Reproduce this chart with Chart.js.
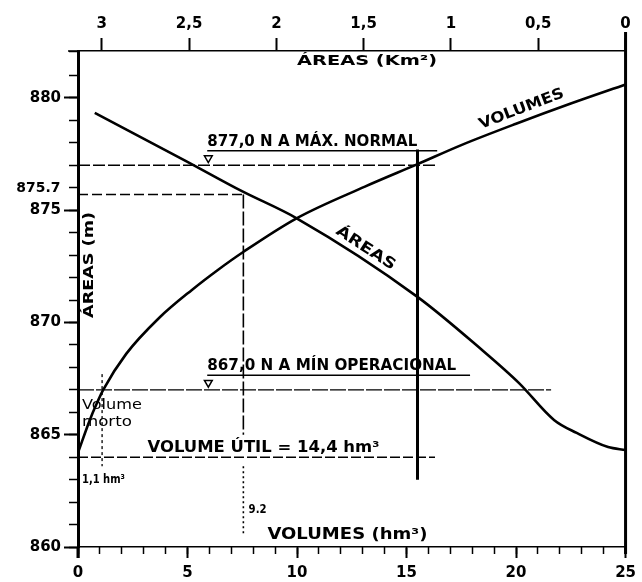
<!DOCTYPE html>
<html><head><meta charset="utf-8">
<script src="https://cdn.jsdelivr.net/npm/chart.js@4.4.1/dist/chart.umd.min.js"></script>
<style>html,body{margin:0;padding:0;background:#fff}#wrap{width:642px;height:582px;position:relative}canvas{display:block}</style>
</head><body><div id="wrap"><canvas id="c" width="642" height="582"></canvas></div>
<script>
// ---- data ----
const volumeValues = [0, 0.54, 0.86, 1.15, 2.2, 3.7, 5.2, 6.4, 7.56, 10.0, 13.1, 15.5, 17.5, 20.0, 22.5, 25];
const volumeElev   = [864.2, 865.66, 866.4, 867.0, 868.6, 870.2, 871.45, 872.35, 873.15, 874.65, 876.05, 877.05, 877.9, 878.85, 879.75, 880.6];
// areas ordered from largest to smallest (left to right on the reversed top axis)
const areaValues   = [3.04, 2.52, 2.2, 1.886, 1.19, 0.835, 0.61, 0.41, 0.28, 0.1, 0];
const areaElev     = [879.33, 877.2, 875.86, 874.65, 871.13, 868.86, 867.3, 865.66, 865.08, 864.45, 864.32];
const elevTicks    = [860, 865, 870, 875, 880];
const volumeTicks  = [0, 5, 10, 15, 20, 25];
const areaTicks    = [3, 2.5, 2, 1.5, 1, 0.5, 0];
const areaTickLabels = ['3', '2,5', '2', '1,5', '1', '0,5', '0'];
const levelMaxNormal = 877.0;
const levelMinOper   = 867.0;
const levelBottom    = 864.0;
const level875       = 875.7;
const deadVolume     = 1.1;
const volumeAtMax    = 15.5;
const volumeAt875    = 7.55;

const pts = (xs, ys) => xs.map((x, i) => ({x, y: ys[i]}));
const seg = (x1, y1, x2, y2) => [{x: x1, y: y1}, {x: x2, y: y2}];
const line = (data, w, dash) => ({data, showLine: true, borderColor: '#000', borderWidth: w, borderDash: dash || [], pointRadius: 0, fill: false, tension: 0, xAxisID: 'x', yAxisID: 'y'});

const FONT = 'DejaVu Sans';
const notes = [
  {text: '877,0 N A MÁX. NORMAL', v: 5.9, e: 877.86, align: 'left', base: 'alphabetic', w: 210, size: 15, bold: true},
  {text: '867,0 N A MÍN OPERACIONAL', v: 5.9, e: 867.88, align: 'left', base: 'alphabetic', w: 249, size: 15, bold: true},
  {text: 'VOLUME ÚTIL = 14,4 hm³', v: 3.17, e: 864.23, align: 'left', base: 'alphabetic', w: 232, size: 15, bold: true},
  {text: 'ÁREAS (Km²)', v: 13.2, e: 881.62, align: 'center', base: 'middle', w: 140, size: 14, bold: true},
  {text: 'ÁREAS (m)', v: 0.5, e: 872.56, align: 'center', base: 'middle', w: 106, size: 14, bold: true, rot: -90},
  {text: 'VOLUMES (hm³)', v: 12.3, e: 860.55, align: 'center', base: 'middle', w: 160, size: 15, bold: true},
  {text: 'VOLUMES', v: 20.25, e: 879.5, align: 'center', base: 'middle', w: 90, size: 15, bold: true, rot: -21},
  {text: 'ÁREAS', v: 13.13, e: 873.3, align: 'center', base: 'middle', w: 68, size: 15, bold: true, rot: 33},
  {text: '875.7', v: -1.81, e: 875.97, align: 'center', base: 'middle', w: 44, size: 14, bold: true},
  {text: 'Volume', v: 0.18, e: 866.33, align: 'left', base: 'middle', w: 60, size: 14, bold: false},
  {text: 'morto', v: 0.18, e: 865.57, align: 'left', base: 'middle', w: 50, size: 14, bold: false},
  {text: '1,1 hm³', v: 0.18, e: 862.98, align: 'left', base: 'middle', w: 43, size: 13, bold: true},
  {text: '9.2', v: 8.2, e: 861.65, align: 'center', base: 'middle', w: 18, size: 13, bold: true}
];

const notesPlugin = {
  id: 'notes',
  afterDraw(chart) {
    const {ctx, chartArea: ca} = chart;
    const xs = chart.scales.x, ys = chart.scales.y;
    ctx.save();
    ctx.strokeStyle = '#000';
    ctx.lineWidth = 3;
    ctx.beginPath();
    ctx.moveTo(ca.right, ca.top - 19); ctx.lineTo(ca.right, ca.bottom + 7);
    ctx.moveTo(ca.left, ca.bottom); ctx.lineTo(ca.left, ca.bottom + 11);
    ctx.stroke();
    ctx.lineWidth = 1.5;
    ctx.beginPath();
    ctx.moveTo(ca.left - 10, ca.top); ctx.lineTo(ca.left, ca.top);
    ctx.stroke();
    ctx.fillStyle = '#000';
    for (const n of notes) {
      const px = xs.getPixelForValue(n.v), py = ys.getPixelForValue(n.e);
      ctx.save();
      ctx.translate(px, py);
      if (n.rot) ctx.rotate(n.rot * Math.PI / 180);
      ctx.font = (n.bold ? 'bold ' : '') + n.size + 'px "' + FONT + '"';
      ctx.textAlign = n.align;
      ctx.textBaseline = n.base;
      const m = ctx.measureText(n.text).width;
      ctx.scale(n.w / m, 1);
      ctx.fillText(n.text, 0, 0);
      ctx.restore();
    }
    ctx.restore();
  }
};

const tickFont = {family: FONT, size: 15, weight: 'bold'};

new Chart(document.getElementById('c'), {
  type: 'scatter',
  data: {
    datasets: [
      Object.assign(line(pts(volumeValues, volumeElev), 2.6), {cubicInterpolationMode: 'monotone', tension: 0.4}),
      Object.assign(line(pts(areaValues, areaElev), 2.6), {cubicInterpolationMode: 'monotone', tension: 0.4, xAxisID: 'x2'}),
      line(seg(0, levelMaxNormal, 16.4, levelMaxNormal), 1.4, [12, 3]),
      line(seg(5.9, 877.65, 16.4, 877.65), 1.5),
      line(seg(0, level875, volumeAt875, level875), 1.3, [10, 4]),
      line(seg(volumeAt875, level875, volumeAt875, 865.0), 1.6, [14, 3]),
      line(seg(volumeAt875, 863.6, volumeAt875, 860.6), 1.6, [2, 3]),
      line(seg(volumeAtMax, 877.7, volumeAtMax, 863.0), 3),
      line(seg(0, levelMinOper, 21.6, levelMinOper), 1.3, [16, 2]),
      line(seg(5.9, 867.65, 17.9, 867.65), 1.5),
      line(seg(0, levelBottom, 16.3, levelBottom), 1.4, [10, 3]),
      line(seg(deadVolume, 867.7, deadVolume, 863.6), 1.3, [3, 3]),
      {data: [{x: 5.95, y: 877.32}, {x: 5.95, y: 867.32}], showLine: false, pointStyle: 'triangle', rotation: 180,
       pointRadius: 4.5, pointBorderWidth: 1.5, pointBorderColor: '#000', pointBackgroundColor: '#fff', xAxisID: 'x', yAxisID: 'y'}
    ]
  },
  options: {
    responsive: false,
    maintainAspectRatio: false,
    animation: false,
    devicePixelRatio: 1,
    layout: {padding: {left: 0, right: 12, top: 0, bottom: 0}},
    plugins: {legend: {display: false}, tooltip: {enabled: false}},
    scales: {
      x: {
        type: 'linear', position: 'bottom', min: 0, max: 25, weight: 1,
        afterBuildTicks: s => { s.ticks = volumeTicks.map(v => ({value: v})); },
        afterFit: s => { s.height = 35; },
        ticks: {font: tickFont, color: '#000', padding: 6, maxRotation: 0, autoSkip: false},
        grid: {drawOnChartArea: false, drawTicks: true, tickLength: 11, tickWidth: 2, tickColor: '#000'},
        border: {display: true, color: '#000', width: 1.5}
      },
      xMinor: {
        type: 'linear', position: 'bottom', min: 0, max: 25, weight: 0,
        ticks: {display: false, stepSize: 1, autoSkip: false},
        afterFit: s => { s.height = 0; },
        grid: {drawOnChartArea: false, drawTicks: true, tickLength: 7, tickWidth: 1.5, tickColor: '#000'},
        border: {display: false}
      },
      x2: {
        type: 'linear', position: 'top', min: 0, max: 3.136, reverse: true,
        afterBuildTicks: s => { s.ticks = areaTicks.map(v => ({value: v})); },
        afterFit: s => { s.height = 51; },
        ticks: {font: tickFont, color: '#000', padding: 5, maxRotation: 0, autoSkip: false,
                callback: (v) => { const i = areaTicks.indexOf(v); return i >= 0 ? areaTickLabels[i] : ''; }},
        grid: {drawOnChartArea: false, drawTicks: true, tickLength: 13, tickWidth: 2, tickColor: '#000'},
        border: {display: true, color: '#000', width: 1.5}
      },
      y: {
        type: 'linear', position: 'left', min: 860, max: 882.09, weight: 1,
        afterBuildTicks: s => { s.ticks = elevTicks.map(v => ({value: v})); },
        afterFit: s => { s.width = 78; },
        ticks: {font: tickFont, color: '#000', padding: 3, autoSkip: false},
        grid: {drawOnChartArea: false, drawTicks: true, tickLength: 14, tickWidth: 2, tickColor: '#000'},
        border: {display: true, color: '#000', width: 3}
      },
      yMinor: {
        type: 'linear', position: 'left', min: 860, max: 882.09, weight: 0,
        ticks: {display: false, stepSize: 1, autoSkip: false},
        afterFit: s => { s.width = 0; },
        grid: {drawOnChartArea: false, drawTicks: true, tickLength: 9, tickWidth: 1.5, tickColor: '#000'},
        border: {display: false}
      }
    }
  },
  plugins: [notesPlugin]
});
</script></body></html>
